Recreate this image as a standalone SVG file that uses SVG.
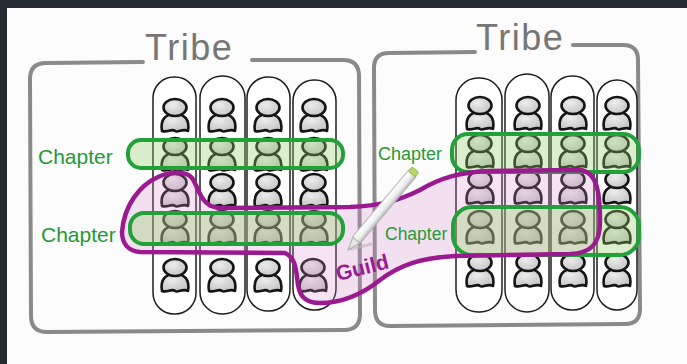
<svg xmlns="http://www.w3.org/2000/svg" width="687" height="364" viewBox="0 0 687 364">
<style>
.tribe{fill:none;stroke:#8a8a8a;stroke-width:4;stroke-linecap:round;stroke-linejoin:round}
.ttl{font-family:"Liberation Sans",Arial,sans-serif;font-size:36px;fill:#767676;letter-spacing:1.5px}
.squad{fill:#fff;stroke:#1e1e1e;stroke-width:1.5}
.chap{fill:rgba(150,205,100,0.33);stroke:#22a03a;stroke-width:4}
.clab{font-family:"Liberation Sans",Arial,sans-serif;fill:#1f9a36}
.guildfill{fill:rgba(215,140,205,0.24);stroke:none}
.guildline{fill:none;stroke:#9c1a90;stroke-width:4.5;stroke-linejoin:round}
.glab{font-family:"Liberation Sans",Arial,sans-serif;font-size:21px;font-weight:bold;fill:#9c1a90}
</style>
<defs>
<radialGradient id="pg" cx="0.4" cy="0.35" r="0.7">
<stop offset="0" stop-color="#ececec"/>
<stop offset="1" stop-color="#c4c4c4"/>
</radialGradient>
<g id="person">
<path d="M -13,15 C -15,4 -10,-2 0,-2 C 10,-2 15,4 13,15 C 8,12 3,17 0,15 C -3,12 -8,17 -13,15 Z" fill="url(#pg)" stroke="#141414" stroke-width="2.6" stroke-linejoin="round"/>
<ellipse cx="0" cy="-8.5" rx="11.5" ry="8.5" fill="url(#pg)" stroke="#141414" stroke-width="2.6"/>
</g>
<linearGradient id="pen" x1="0" y1="0" x2="0" y2="1">
<stop offset="0" stop-color="#ffffff"/>
<stop offset="0.6" stop-color="#eeeeee"/>
<stop offset="1" stop-color="#b8b8b8"/>
</linearGradient>
</defs>

<rect x="0" y="0" width="687" height="364" fill="#252b33"/>
<rect x="7" y="8" width="680" height="356" fill="#fcfcfc"/>

<g id="tribe-left">
<path class="tribe" d="M143,62 L46,63 Q30,63 30,79 L31,316 Q31,332 47,332 L344,330 Q360,330 360,314 L359,76 Q359,60 343,60 L252,60"/>
<text class="ttl" x="145" y="60">Tribe</text>
</g>
<g id="tribe-right">
<path class="tribe" d="M475,52 L389,53 Q374,53 374,68 L375,310 Q375,326 390,326 L625,324 Q640,324 640,309 L638,60 Q638,45 623,45 L573,45"/>
<text class="ttl" x="476" y="50">Tribe</text>
</g>

<g id="squads-left">
<rect class="squad" x="153" y="77" width="43" height="237" rx="21"/>
<rect class="squad" x="200" y="76" width="45" height="238" rx="22"/>
<rect class="squad" x="247" y="77" width="43" height="234" rx="21"/>
<rect class="squad" x="293" y="80" width="43" height="230" rx="21"/>
</g>
<g id="squads-right">
<rect class="squad" x="456" y="78" width="46" height="234" rx="22"/>
<rect class="squad" x="505" y="74" width="44" height="238" rx="22"/>
<rect class="squad" x="551" y="76" width="43" height="234" rx="21"/>
<rect class="squad" x="597" y="80" width="40" height="230" rx="20"/>
</g>

<g id="people-left">
<use href="#person" x="175" y="116"/><use href="#person" x="222" y="116"/><use href="#person" x="268" y="116"/><use href="#person" x="314" y="116"/>
<use href="#person" x="175" y="155"/><use href="#person" x="222" y="155"/><use href="#person" x="268" y="155"/><use href="#person" x="314" y="155"/>
<use href="#person" x="175" y="191"/><use href="#person" x="222" y="191"/><use href="#person" x="268" y="191"/><use href="#person" x="314" y="191"/>
<use href="#person" x="175" y="228"/><use href="#person" x="222" y="228"/><use href="#person" x="268" y="228"/><use href="#person" x="314" y="228"/>
<use href="#person" x="175" y="276"/><use href="#person" x="222" y="276"/><use href="#person" x="268" y="276"/><use href="#person" x="313" y="276"/>
</g>
<g id="people-right">
<use href="#person" x="480" y="114"/><use href="#person" x="528" y="114"/><use href="#person" x="573" y="114"/><use href="#person" x="617" y="114"/>
<use href="#person" x="480" y="152"/><use href="#person" x="528" y="152"/><use href="#person" x="573" y="152"/><use href="#person" x="617" y="152"/>
<use href="#person" x="480" y="188"/><use href="#person" x="528" y="188"/><use href="#person" x="573" y="188"/><use href="#person" x="617" y="188"/>
<use href="#person" x="480" y="228"/><use href="#person" x="528" y="228"/><use href="#person" x="573" y="228"/><use href="#person" x="617" y="228"/>
<use href="#person" x="480" y="271"/><use href="#person" x="528" y="271"/><use href="#person" x="573" y="271"/><use href="#person" x="617" y="271"/>
</g>

<g id="guild">
<path id="guild-shape" class="guildfill" d="M122,232 C124,205 140,185 158,177 C168,172 185,170 192,178 C200,190 200,205 218,208 L350,207 C380,206 400,200 420,190 C440,178 460,172 490,171 L580,170 C598,172 600,195 600,222 C600,245 590,253 570,254 L455,256 C420,258 400,265 380,280 C365,292 345,303 320,303 C305,303 300,296 298,285 C296,270 296,258 285,253 L140,252 C128,251 122,243 122,232 Z"/>
</g>

<g id="chapters">
<g id="chapter-left-1">
<rect class="chap" x="128" y="140" width="215" height="28" rx="13"/>
<text class="clab" x="38" y="164" font-size="21">Chapter</text>
</g>
<g id="chapter-left-2">
<rect class="chap" x="130" y="213" width="213" height="31" rx="14"/>
<text class="clab" x="41" y="242" font-size="21">Chapter</text>
</g>
<g id="chapter-right-1">
<rect class="chap" x="452" y="134" width="187" height="38" rx="16"/>
<text class="clab" x="378" y="160" font-size="18">Chapter</text>
</g>
<g id="chapter-right-2">
<rect class="chap" x="453" y="207" width="186" height="48" rx="19"/>
<text class="clab" x="385" y="240" font-size="17.5">Chapter</text>
</g>
</g>

<g id="guild-outline">
<path class="guildline" d="M122,232 C124,205 140,185 158,177 C168,172 185,170 192,178 C200,190 200,205 218,208 L350,207 C380,206 400,200 420,190 C440,178 460,172 490,171 L580,170 C598,172 600,195 600,222 C600,245 590,253 570,254 L455,256 C420,258 400,265 380,280 C365,292 345,303 320,303 C305,303 300,296 298,285 C296,270 296,258 285,253 L140,252 C128,251 122,243 122,232 Z"/>
<text class="glab" x="338" y="281" transform="rotate(-14 338 281)">Guild</text>
</g>

<g id="pen">
<path d="M350,249 L372,244" stroke="#b5b5b5" stroke-width="3" opacity="0.6" fill="none"/>
<g transform="translate(348,250) rotate(-50)">
<path d="M0,0 L13,-4.5 L13,4.5 Z" fill="#e6e6e6" stroke="#b0b0b0" stroke-width="1"/>
<rect x="13" y="-5" width="88" height="10" rx="2" fill="url(#pen)" stroke="#b0b0b0" stroke-width="1"/>
<rect x="99" y="-4.5" width="6" height="9" rx="2" fill="#b9d86a" stroke="#8fb04a" stroke-width="0.8"/>
</g>
</g>

<g id="connectors"></g>
</svg>
